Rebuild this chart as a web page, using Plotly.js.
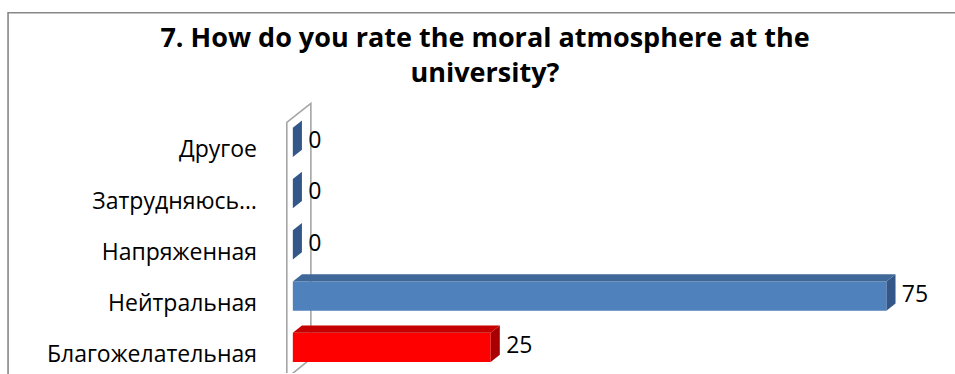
<!DOCTYPE html>
<html>
<head>
<meta charset="utf-8">
<script src="https://cdn.plot.ly/plotly-3.0.1.min.js"></script>
<style>
  html, body { margin: 0; padding: 0; background: #ffffff; overflow: hidden; }
  #chart { width: 955px; height: 374px; }
</style>
</head>
<body>
<div id="chart"></div>
<script>
// Survey answers, bottom row first
const categories = ['Благожелательная', 'Нейтральная', 'Напряженная', 'Затрудняюсь…', 'Другое'];
const values = [25, 75, 0, 0, 0];

// Face colours of each 3D bar: front, top, side
const frontColors = ['#FF0000', '#4F81BD', '#4F81BD', '#4F81BD', '#4F81BD'];
const topColors   = ['#C40000', '#3F6898', '#3F6898', '#3F6898', '#3F6898'];
const sideColors  = ['#A80000', '#34578A', '#34578A', '#34578A', '#34578A'];

const chartTitle = '7. How do you rate the moral atmosphere at the<br>university?';

// Pseudo-3D geometry (axis units)
const BAR_W = 0.57;     // bar thickness in category units
const DEPTH_X = 1.15;   // receding offset along x
const DEPTH_Y = 0.14;   // receding offset along y
const LABEL_GAP = 0.8;  // gap between bar side and its value label
const WALL = { frontX: -0.76, backX: 2.28, frontTop: 4.39, backTop: 4.76, frontBottom: -0.6, backBottom: -0.22 };

const FONT = 'Open Sans, DejaVu Sans, sans-serif';
const M = { l: 277.2, r: 29.4, t: 90.75, b: 1.4 };
const W = 955, H = 374;
const plotW = W - M.l - M.r, plotH = H - M.t - M.b;
const px2paperX = p => (p - M.l) / plotW;
const px2paperY = p => (H - M.b - p) / plotH;

const idx = categories.map((_, i) => i);
const traces = [];

// side faces (visible even for zero-length bars)
idx.forEach(i => {
  const v = values[i], y0 = i - BAR_W / 2, y1 = i + BAR_W / 2;
  traces.push({
    type: 'scatter', mode: 'lines', fill: 'toself', hoverinfo: 'skip',
    x: [v, v + DEPTH_X, v + DEPTH_X, v, v],
    y: [y0, y0 + DEPTH_Y, y1 + DEPTH_Y, y1, y0],
    fillcolor: sideColors[i], line: { width: 0 }, showlegend: false
  });
});

// top faces
idx.forEach(i => {
  const v = values[i], y1 = i + BAR_W / 2;
  if (v <= 0) return;
  traces.push({
    type: 'scatter', mode: 'lines', fill: 'toself', hoverinfo: 'skip',
    x: [0, v, v + DEPTH_X, DEPTH_X, 0],
    y: [y1, y1, y1 + DEPTH_Y, y1 + DEPTH_Y, y1],
    fillcolor: topColors[i], line: { width: 0 }, showlegend: false
  });
});

// front faces
traces.push({
  type: 'bar', orientation: 'h',
  x: values, y: idx, width: BAR_W,
  marker: { color: frontColors, line: { width: 0 } },
  hoverinfo: 'x+y', showlegend: false
});

// value labels beside each bar
traces.push({
  type: 'scatter', mode: 'text',
  x: values.map(v => v + DEPTH_X + LABEL_GAP), y: idx,
  text: values.map(String), textposition: 'middle right',
  textfont: { family: FONT, size: 23, color: '#000000' },
  cliponaxis: false, hoverinfo: 'skip', showlegend: false
});

const layout = {
  width: W, height: H,
  margin: M,
  paper_bgcolor: '#ffffff', plot_bgcolor: 'rgba(0,0,0,0)',
  title: {
    text: chartTitle,
    font: { family: FONT, size: 27, color: '#000000', weight: 'bold' },
    x: 485 / W, xref: 'container', xanchor: 'center',
    y: 1 - 47 / H, yref: 'container', yanchor: 'top'
  },
  xaxis: {
    range: [-2, 80], visible: false, fixedrange: true
  },
  yaxis: {
    range: [-0.5, 5.0], tickvals: idx, ticktext: categories,
    showgrid: false, zeroline: false, showline: false, ticks: '',
    tickfont: { family: FONT, size: 23, color: '#000000' },
    ticklabelstandoff: 19, ticklabelshift: 7, fixedrange: true
  },
  shapes: [
    // back wall of the 3D plot area
    {
      type: 'path', xref: 'x', yref: 'y', layer: 'below',
      path: `M ${WALL.frontX} ${WALL.frontBottom} L ${WALL.frontX} ${WALL.frontTop} L ${WALL.backX} ${WALL.backTop} L ${WALL.backX} ${WALL.backBottom} Z`,
      fillcolor: '#ffffff', line: { color: '#A6A6A6', width: 1.6 }
    },
    // chart frame
    {
      type: 'rect', xref: 'paper', yref: 'paper', layer: 'above',
      x0: px2paperX(8.5), x1: px2paperX(975), y0: px2paperY(395), y1: px2paperY(12.5),
      fillcolor: 'rgba(0,0,0,0)', line: { color: '#878787', width: 1.6 }
    }
  ],
  showlegend: false
};

Plotly.newPlot('chart', traces, layout, { displayModeBar: false, staticPlot: true });
</script>
</body>
</html>
